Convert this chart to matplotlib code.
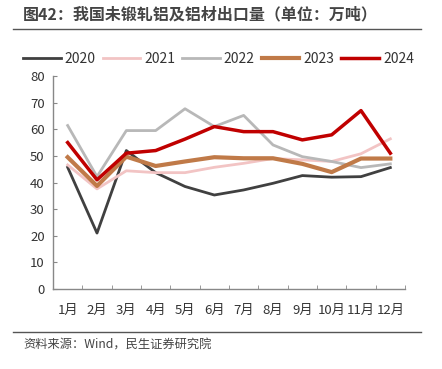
import matplotlib.pyplot as plt
import numpy as np

plt.rcParams['font.family'] = ['Noto Sans CJK SC', 'DejaVu Sans']

months = ['1月', '2月', '3月', '4月', '5月', '6月', '7月', '8月', '9月', '10月', '11月', '12月']
y2020 = [45.7, 21, 52, 43.7, 38.5, 35.3, 37.2, 39.7, 42.6, 42, 42.2, 45.6]
y2021 = [46.6, 37.6, 44.4, 43.7, 43.7, 45.7, 47.2, 49, 48.5, 47.9, 50.8, 56.4]
y2022 = [61.4, 42.2, 59.5, 59.5, 67.7, 61, 65.2, 54.1, 49.7, 47.9, 45.6, 47]
y2023 = [49.5, 38.7, 49.7, 46.2, 47.9, 49.5, 49.1, 49.1, 47, 43.9, 49, 49]
y2024 = [55, 41, 51, 52, 56.3, 61, 59.1, 59.1, 56, 57.9, 67, 51]

fig = plt.figure(figsize=(4.42, 3.69), dpi=100)
ax = fig.add_axes([53/442, 1 - 289/369, 352/442, 213/369])

x = np.arange(len(months))
ax.plot(x, y2020, color='#404040', lw=2, label='2020')
ax.plot(x, y2021, color='#F2C4C4', lw=2, label='2021')
ax.plot(x, y2022, color='#B8B8B8', lw=2, label='2022')
ax.plot(x, y2023, color='#C07A48', lw=3, label='2023')
ax.plot(x, y2024, color='#C00000', lw=2.5, label='2024')

ax.set_xlim(-0.5, 11.5)
ax.set_ylim(0, 80)
ax.set_yticks(range(0, 81, 10))
ax.set_xticks(x)
ax.set_xticklabels(months)
ax.set_xticks(np.arange(-0.5, 12, 1), minor=True)
ax.tick_params(axis='x', which='major', length=0, pad=11, labelsize=9.5, labelcolor='#333333')
ax.tick_params(axis='x', which='minor', length=3, direction='in', color='#888888')
ax.tick_params(axis='y', length=3, direction='in', color='#888888', labelsize=9.5,
               labelcolor='#333333', pad=6)
for s in ['top', 'right']:
    ax.spines[s].set_visible(False)
for s in ['left', 'bottom']:
    ax.spines[s].set_color('#888888')
    ax.spines[s].set_linewidth(1)

ax.legend(loc='lower center', bbox_to_anchor=(0.47, 1.0), ncol=5, frameon=False,
          fontsize=10, handlelength=2.7, columnspacing=0.5, handletextpad=0.3,
          labelcolor='#333333', borderaxespad=0.3)

fig.text(23/442, 1 - 14/369, '图42：我国未锻轧铝及铝材出口量（单位：万吨）', fontsize=11.5,
         fontweight='bold', color='#444444', va='center')
fig.add_artist(plt.Line2D([13/442, 421/442], [1 - 29/369, 1 - 29/369], color='#555555', lw=1))
fig.add_artist(plt.Line2D([13/442, 421/442], [1 - 332/369, 1 - 332/369], color='#555555', lw=1))
fig.text(23/442, 1 - 345/369, '资料来源：Wind，民生证券研究院', fontsize=8.8, color='#444444', va='center')

fig.savefig('out.png', dpi=100)
